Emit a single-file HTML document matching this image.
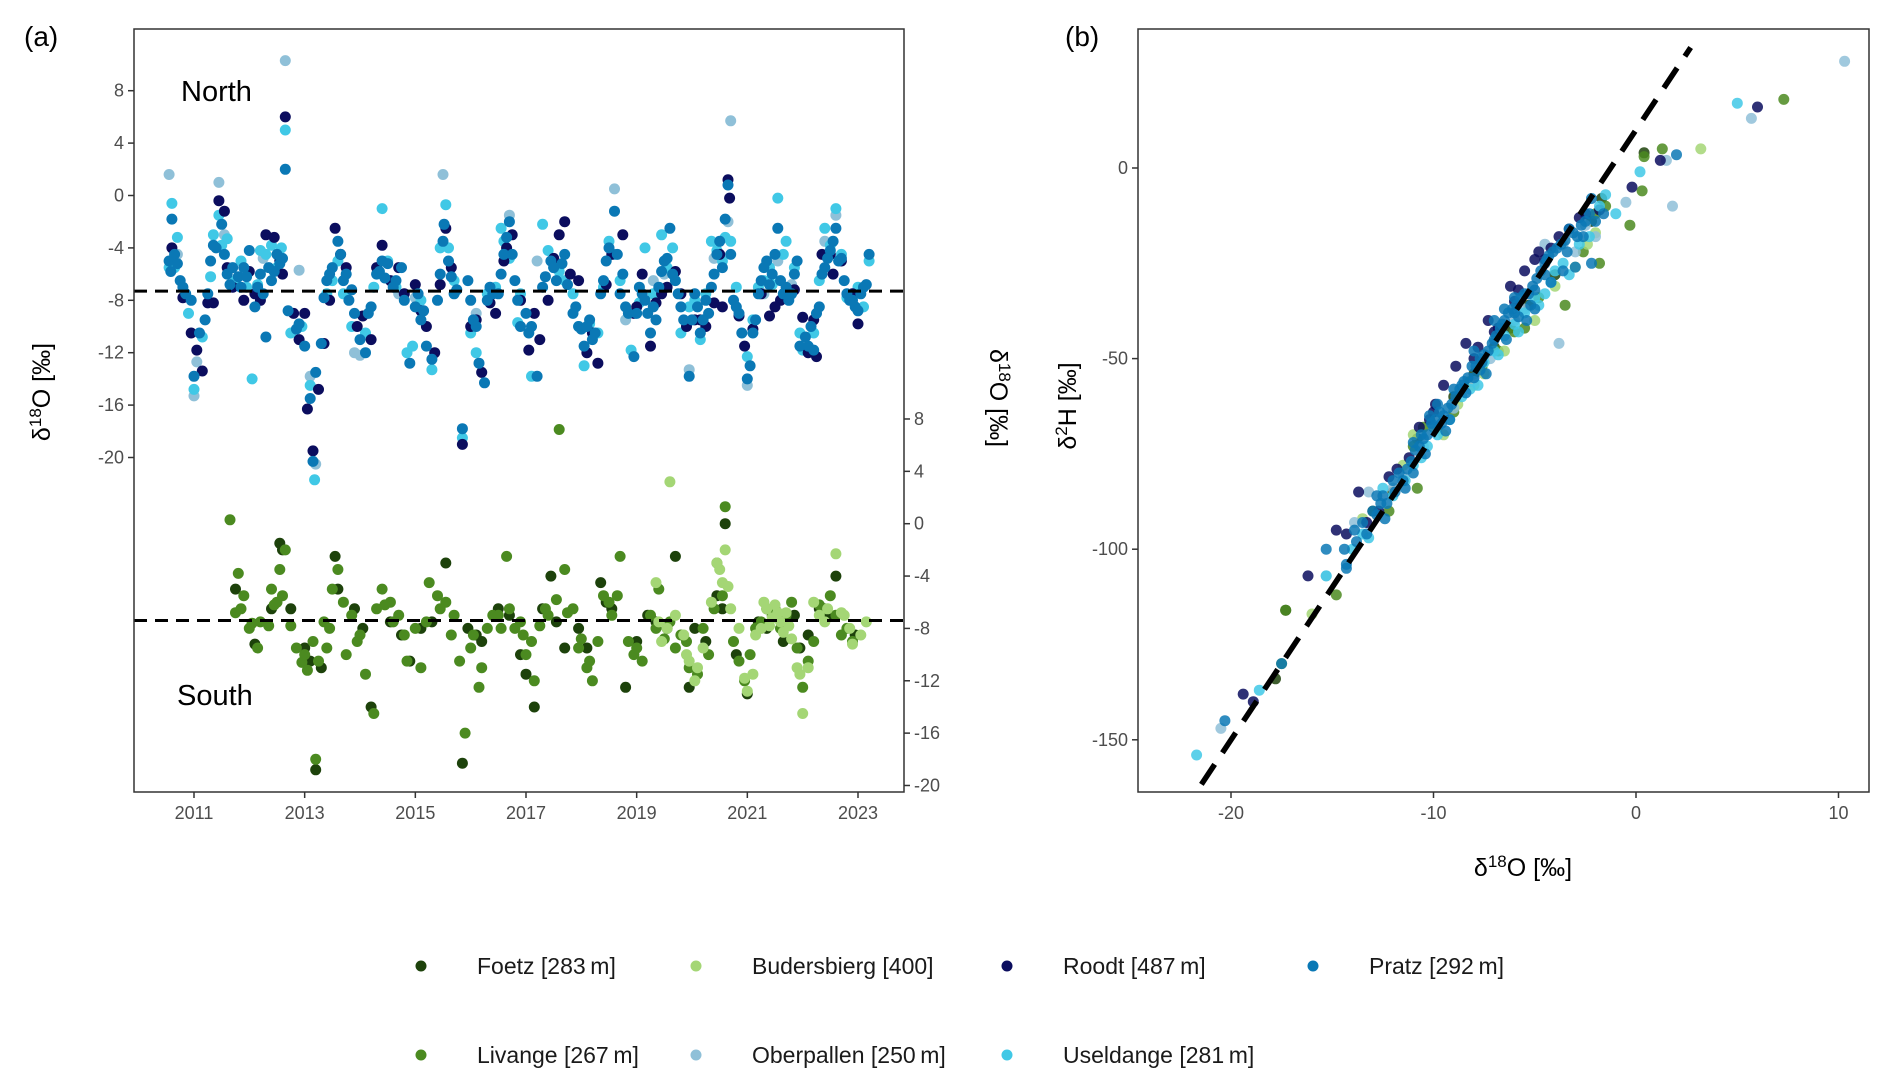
<!DOCTYPE html>
<html><head><meta charset="utf-8">
<style>
html,body{margin:0;padding:0;background:#fff;}
svg{display:block;font-family:"Liberation Sans",Arial,sans-serif;}
</style></head>
<body>
<svg id="chart" width="1892" height="1087" viewBox="0 0 1892 1087" xmlns="http://www.w3.org/2000/svg">
<rect width="1892" height="1087" fill="#fff"/>
<g id="pa"></g>
<g id="pb"></g>
<g id="leg"></g>
</svg>
<script>
// ---------- data ----------
const stationNames = ["Foetz [283\u2009m]","Budersbierg [400]","Roodt [487\u2009m]","Pratz [292\u2009m]","Livange [267\u2009m]","Oberpallen [250\u2009m]","Useldange [281\u2009m]"];
const stationColors = ["#1d420b","#a4d675","#0b0d5e","#0a78b5","#4b8a20","#8fc0d8","#40c8e6"];
const xTicksA = [2011,2013,2015,2017,2019,2021,2023];
const yTicksNorth = [8,4,0,-4,-8,-12,-16,-20];
const yTicksSouth = [8,4,0,-4,-8,-12,-16,-20];
const meanNorth = -7.3;
const meanSouth = -7.4;
// north stations (left axis): [year, d18O]
const pratz = [[2010.55,-5],[2010.6,-1.8],[2010.65,-4.5],[2010.75,-6.5],[2010.85,-7.5],[2010.95,-8],[2011.0,-13.8],[2011.1,-10.5],[2011.2,-9.5],[2011.3,-5],[2011.4,-4],[2011.5,-2.2],[2011.6,-6],[2011.7,-5.5],[2011.8,-6.2],[2011.9,-5.5],[2012.0,-4.2],[2012.1,-8.5],[2012.2,-6],[2012.3,-10.8],[2012.4,-6.5],[2012.5,-4.5],[2012.6,-4.8],[2012.65,2],[2012.7,-8.8],[2012.85,-10.2],[2013.0,-11.5],[2013.1,-15.5],[2013.15,-20.3],[2013.2,-13.5],[2013.3,-11.3],[2013.4,-6.5],[2013.5,-5.5],[2013.6,-3.5],[2013.7,-6.5],[2013.8,-8],[2013.9,-9],[2014.0,-11],[2014.1,-12],[2014.2,-8.5],[2014.3,-6],[2014.4,-5],[2014.5,-5.2],[2014.6,-7],[2014.75,-5.5],[2014.9,-12.8],[2015.0,-8.5],[2015.1,-9.5],[2015.2,-11.5],[2015.3,-12.5],[2015.4,-8],[2015.5,-3.5],[2015.6,-5],[2015.7,-7.5],[2015.85,-17.8],[2015.95,-6.5],[2016.05,-9.5],[2016.15,-12.8],[2016.25,-14.3],[2016.35,-7],[2016.5,-7.5],[2016.6,-4.5],[2016.7,-2],[2016.8,-6.5],[2016.9,-10],[2017.0,-9],[2017.1,-10],[2017.2,-13.8],[2017.3,-7],[2017.45,-5],[2017.55,-6.5],[2017.7,-4.5],[2017.85,-9],[2017.95,-10],[2018.05,-11.5],[2018.15,-9.5],[2018.25,-10.5],[2018.35,-7.5],[2018.5,-4],[2018.6,-1.2],[2018.7,-7.5],[2018.85,-9],[2018.95,-12.3],[2019.05,-7],[2019.15,-8],[2019.25,-10.5],[2019.35,-9.5],[2019.5,-5],[2019.6,-2.5],[2019.7,-6.5],[2019.85,-9.5],[2019.95,-13.8],[2020.05,-7.5],[2020.15,-10.5],[2020.3,-9],[2020.4,-6],[2020.5,-3.5],[2020.6,-1.8],[2020.65,0.8],[2020.75,-8],[2020.9,-10.5],[2021.0,-14],[2021.05,-13],[2021.15,-9.5],[2021.3,-5.5],[2021.45,-6],[2021.55,-2.5],[2021.65,-7.5],[2021.75,-8],[2021.9,-5],[2021.95,-11.5],[2022.05,-10.8],[2022.2,-11.8],[2022.3,-8.5],[2022.45,-4.8],[2022.6,-2.5],[2022.7,-4.8],[2022.85,-8],[2022.95,-8.5],[2023.1,-7],[2023.2,-4.5],
[2010.58,-5.8],[2010.7,-5.2],[2010.8,-7],[2011.25,-7.5],[2011.35,-3.8],[2011.55,-4.5],[2011.65,-6.8],[2011.85,-7],[2011.95,-6.2],[2012.15,-7],[2012.25,-7.5],[2012.35,-5.5],[2012.45,-5.8],[2012.55,-5.2],[2012.9,-9.8],[2013.35,-7.8],[2013.45,-6],[2013.65,-4.5],[2013.75,-6],[2013.85,-7.2],[2014.15,-9],[2014.35,-5.8],[2014.45,-6.3],[2014.65,-6.5],[2014.8,-8],[2015.05,-7.5],[2015.15,-8.8],[2015.45,-6],[2015.52,-2.2],[2015.65,-6.2],[2015.75,-7.2],[2016.0,-8],[2016.1,-10],[2016.3,-8],[2016.4,-7.5],[2016.55,-6],[2016.65,-3.2],[2016.75,-4.5],[2016.85,-8],[2017.05,-10.5],[2017.35,-6.2],[2017.5,-5.5],[2017.65,-5.2],[2017.75,-6.8],[2017.9,-8.5],[2018.0,-10.2],[2018.1,-10],[2018.2,-11],[2018.4,-6.5],[2018.45,-5],[2018.65,-4.5],[2018.75,-6],[2018.8,-8.5],[2019.0,-9],[2019.1,-7.5],[2019.2,-9],[2019.3,-8.5],[2019.4,-7],[2019.45,-5.8],[2019.55,-4.8],[2019.65,-6],[2019.75,-7.5],[2019.8,-8.5],[2020.0,-9.5],[2020.1,-8.5],[2020.2,-9.5],[2020.25,-8],[2020.35,-7],[2020.45,-4.5],[2020.55,-5.5],[2020.7,-4.5],[2020.8,-8.5],[2020.85,-9],[2021.1,-10.5],[2021.2,-7.5],[2021.25,-6.5],[2021.35,-5],[2021.4,-6.8],[2021.5,-4.5],[2021.6,-6.5],[2021.7,-7],[2021.8,-7.5],[2021.85,-6],[2022.1,-11.5],[2022.15,-10],[2022.25,-9],[2022.35,-6],[2022.4,-5.5],[2022.5,-4.2],[2022.55,-3.5],[2022.65,-5],[2022.75,-6.5],[2022.8,-7.5],[2022.9,-8],[2023.0,-8.8],[2023.05,-7.5],[2023.15,-6.8]];
const roodt = [[2010.6,-4],[2010.8,-7.8],[2010.95,-10.5],[2011.05,-11.8],[2011.15,-13.4],[2011.35,-8.2],[2011.45,-0.4],[2011.55,-1.2],[2011.7,-7],[2011.9,-8],[2012.1,-7.5],[2012.3,-3],[2012.45,-3.2],[2012.6,-6],[2012.65,6],[2012.8,-9],[2012.9,-11],[2013.0,-9],[2013.05,-16.3],[2013.15,-19.5],[2013.25,-14.8],[2013.45,-8],[2013.55,-2.5],[2013.75,-5.5],[2013.95,-10],[2014.2,-11],[2014.4,-3.8],[2014.55,-6.5],[2014.8,-7.5],[2015.0,-6.8],[2015.2,-10],[2015.35,-12],[2015.55,-2.5],[2015.65,-5.5],[2015.85,-19],[2016.0,-10],[2016.2,-13.5],[2016.45,-9],[2016.6,-5],[2016.75,-3],[2016.9,-8],[2017.05,-11.8],[2017.25,-11],[2017.4,-8],[2017.6,-3],[2017.8,-6],[2017.95,-6.5],[2018.1,-12],[2018.3,-12.8],[2018.55,-4.5],[2018.75,-3],[2018.95,-9],[2019.1,-6],[2019.25,-11.5],[2019.45,-7.5],[2019.55,-7],[2019.7,-5.8],[2019.9,-10],[2020.05,-9.5],[2020.25,-10],[2020.5,-4.5],[2020.55,-8.5],[2020.65,1.2],[2020.68,-0.2],[2020.85,-9.2],[2021.1,-10.2],[2021.25,-7.5],[2021.4,-9.2],[2021.6,-8],[2021.75,-7.5],[2022.0,-9.3],[2022.1,-12],[2022.25,-12.3],[2022.35,-4.5],[2022.55,-6],[2022.7,-5],[2022.9,-7.5],[2023.0,-9.8],
[2011.25,-8.2],[2011.6,-5.5],[2012.0,-5.8],[2012.2,-8],[2012.55,-5],[2013.35,-11.3],[2013.65,-4.5],[2014.05,-9.2],[2014.3,-5.5],[2014.7,-5.5],[2015.1,-8.8],[2015.45,-6.8],[2016.1,-9.5],[2016.35,-8.2],[2016.65,-4],[2017.15,-9],[2017.5,-4.8],[2017.7,-2],[2018.2,-10.5],[2018.45,-6.8],[2019.0,-8.5],[2019.35,-8.2],[2019.8,-7.5],[2020.15,-9.5],[2020.4,-8.2],[2020.95,-11.5],[2021.5,-8.5],[2021.85,-7.2],[2022.2,-9.5],[2022.5,-4.5]];
const useldange = [[2010.55,-5.5],[2010.6,-0.6],[2010.7,-3.2],[2010.9,-9],[2011.0,-14.8],[2011.15,-10.8],[2011.35,-3],[2011.45,-1.5],[2011.6,-3.3],[2011.75,-6.5],[2011.95,-7],[2012.05,-14],[2012.2,-4.2],[2012.4,-3.8],[2012.65,5],[2012.75,-10.5],[2012.95,-10],[2013.1,-14.5],[2013.18,-21.7],[2013.4,-7.5],[2013.6,-5],[2013.85,-10],[2014.1,-10.5],[2014.4,-1],[2014.65,-7],[2014.85,-12],[2015.1,-8],[2015.3,-13.3],[2015.55,-0.7],[2015.6,-4],[2015.85,-18.5],[2016.1,-12],[2016.3,-7.5],[2016.55,-2.5],[2016.7,-4.8],[2016.85,-9.7],[2017.1,-13.8],[2017.3,-2.2],[2017.5,-5.5],[2017.7,-6.5],[2017.95,-10],[2018.05,-13],[2018.3,-10.5],[2018.5,-3.5],[2018.7,-6.5],[2018.9,-11.8],[2019.15,-4],[2019.3,-7.5],[2019.45,-3],[2019.8,-10.5],[2019.95,-8.5],[2020.15,-11],[2020.35,-3.5],[2020.55,-5],[2020.7,-3.5],[2020.8,-7],[2021.0,-12.3],[2021.2,-7],[2021.4,-5.5],[2021.55,-0.2],[2021.7,-3.5],[2021.85,-5.5],[2022.0,-11.8],[2022.2,-10.5],[2022.4,-2.5],[2022.6,-1],[2022.8,-7.8],[2023.1,-8.5],[2023.2,-5],
[2010.65,-5.5],[2011.3,-6.2],[2011.5,-3.8],[2011.85,-5],[2012.15,-6.8],[2012.3,-4.5],[2012.5,-5.5],[2012.58,-4],[2013.5,-6.5],[2013.7,-7.5],[2014.25,-7],[2014.5,-5],[2014.95,-11.5],[2015.45,-4],[2015.7,-6.5],[2016.0,-10.5],[2016.45,-7],[2016.6,-3.5],[2016.9,-7.5],[2017.4,-4.2],[2017.6,-5.8],[2017.85,-7.5],[2018.15,-9.8],[2018.4,-7],[2018.6,-4.5],[2019.05,-8.2],[2019.55,-5.5],[2019.65,-4],[2020.05,-8],[2020.25,-7.5],[2020.45,-4.2],[2020.6,-3.2],[2021.1,-9.5],[2021.3,-6.5],[2021.45,-6.8],[2021.65,-4.5],[2021.95,-10.5],[2022.3,-6.5],[2022.5,-3.8],[2022.7,-4.5],[2023.0,-7]];
const oberpallen = [[2010.55,1.6],[2010.7,-4.5],[2011.0,-15.3],[2011.05,-12.7],[2011.45,1],[2011.55,-3],[2012.25,-4.8],[2012.65,10.3],[2012.9,-5.7],[2013.1,-13.8],[2013.2,-20.5],[2013.9,-12],[2014.7,-7.5],[2015.0,-7.8],[2015.5,1.6],[2016.2,-13.5],[2016.7,-1.5],[2017.2,-5],[2018.6,0.5],[2018.8,-9.5],[2019.3,-6.5],[2019.95,-13.3],[2020.4,-4.8],[2020.7,5.7],[2020.65,-2],[2021.0,-14.5],[2021.55,-5],[2021.8,-6.8],[2022.4,-3.5],[2022.6,-1.5],[2014.0,-12.2],[2016.1,-9],[2017.5,-5.5],[2019.5,-6],[2021.3,-7.5]];
// south stations (right axis)
const livange = [[2011.65,0.3],[2011.75,-6.8],[2011.8,-3.8],[2011.9,-5.5],[2012.05,-7.6],[2012.15,-9.5],[2012.35,-7.8],[2012.4,-5],[2012.5,-6],[2012.55,-3.5],[2012.65,-2],[2012.75,-7.8],[2012.95,-10.6],[2013.05,-11.2],[2013.15,-9],[2013.2,-18],[2013.35,-7.5],[2013.4,-9.5],[2013.5,-5],[2013.6,-3.5],[2013.75,-10],[2013.85,-7],[2014.0,-8.5],[2014.1,-11.5],[2014.25,-14.5],[2014.4,-5],[2014.55,-6],[2014.7,-7],[2014.85,-10.5],[2015.0,-8],[2015.1,-11],[2015.25,-4.5],[2015.4,-5.5],[2015.55,-6],[2015.65,-8.5],[2015.8,-10.5],[2015.9,-16],[2016.05,-8.5],[2016.2,-11],[2016.4,-7],[2016.55,-8],[2016.65,-2.5],[2016.8,-8],[2016.9,-7.5],[2017.0,-10],[2017.15,-12],[2017.35,-6.5],[2017.55,-5.8],[2017.6,7.2],[2017.7,-3.5],[2017.85,-6.5],[2017.95,-9.5],[2018.1,-11],[2018.2,-12],[2018.4,-5.5],[2018.55,-7],[2018.7,-2.5],[2018.85,-9],[2018.95,-10],[2019.1,-10.5],[2019.25,-7],[2019.4,-5],[2019.6,-7.5],[2019.8,-8.5],[2019.95,-11],[2020.1,-11.5],[2020.3,-10],[2020.45,-3],[2020.6,1.3],[2020.75,-9],[2020.95,-12],[2021.15,-8],[2021.35,-6.5],[2021.6,-8],[2021.8,-6],[2022.0,-12.5],[2022.2,-9],[2022.4,-6.5],[2022.6,-7],[2022.8,-8],
[2011.85,-6.5],[2012.0,-8],[2012.2,-7.5],[2012.45,-6.2],[2012.6,-5.5],[2012.85,-9.5],[2013.0,-10],[2013.25,-10.5],[2013.45,-8],[2013.7,-6],[2013.95,-9],[2014.3,-6.5],[2014.45,-6.2],[2014.6,-7.5],[2014.8,-8.5],[2015.2,-7.5],[2015.45,-6.5],[2015.7,-7],[2016.0,-9.5],[2016.15,-12.5],[2016.3,-8],[2016.5,-7],[2016.7,-6.5],[2016.95,-8.5],[2017.1,-9],[2017.25,-7.8],[2017.4,-7],[2017.75,-6.8],[2018.0,-8.8],[2018.15,-10.5],[2018.3,-9],[2018.5,-6],[2018.65,-5.5],[2019.0,-9.5],[2019.35,-8],[2019.5,-8.8],[2019.7,-9.5],[2019.9,-9],[2020.2,-8],[2020.4,-6.5],[2020.55,-5.5],[2020.85,-10.5],[2021.05,-10],[2021.25,-7.5],[2021.45,-7],[2021.7,-7],[2021.9,-9.5],[2022.1,-10.5],[2022.3,-6.2],[2022.5,-5.5],[2022.7,-8.5],[2022.9,-9]];
const foetz = [[2011.75,-5],[2012.1,-9.2],[2012.4,-6.5],[2012.6,-2],[2012.75,-6.5],[2013.1,-10.5],[2013.2,-18.8],[2013.3,-11],[2013.55,-2.5],[2013.9,-6.5],[2014.2,-14],[2014.55,-7.5],[2014.9,-10.5],[2015.1,-8],[2015.55,-3],[2015.85,-18.3],[2015.95,-8],[2016.2,-9],[2016.5,-6.5],[2016.9,-10],[2017.0,-11.5],[2017.15,-14],[2017.3,-6.5],[2017.45,-4],[2017.7,-9.5],[2017.95,-8],[2018.35,-4.5],[2018.55,-6.5],[2018.8,-12.5],[2019.0,-9],[2019.2,-7],[2019.55,-8],[2019.7,-2.5],[2019.95,-12.5],[2020.05,-8],[2020.45,-5.5],[2020.6,0],[2020.8,-10],[2021.0,-13],[2021.2,-7.5],[2021.5,-6.5],[2021.65,-9],[2021.85,-7],[2022.1,-8.5],[2022.3,-6.5],[2022.6,-4],[2022.95,-8.5],
[2012.55,-1.5],[2013.0,-9.5],[2013.6,-5],[2014.05,-8],[2014.75,-8.5],[2015.3,-7.5],[2016.1,-8.5],[2016.7,-7],[2017.55,-7.5],[2018.1,-9.5],[2018.45,-6],[2019.35,-7.5],[2020.25,-9],[2020.55,-6.5],[2021.35,-8],[2021.95,-9.5],[2022.45,-7]];
const budersbierg = [[2019.35,-4.5],[2019.45,-9],[2019.6,3.2],[2019.7,-7],[2019.85,-8.5],[2019.95,-10.5],[2020.05,-12],[2020.2,-9.5],[2020.35,-6],[2020.5,-3.5],[2020.55,-4.5],[2020.6,-2],[2020.7,-6.5],[2020.85,-8],[2021.0,-12.8],[2021.1,-11.5],[2021.25,-8],[2021.35,-6.5],[2021.45,-7.2],[2021.55,-6.8],[2021.65,-8.3],[2021.75,-7.8],[2021.9,-11],[2022.0,-14.5],[2022.1,-11],[2022.3,-7],[2022.45,-6.5],[2022.6,-2.3],[2022.75,-7],[2022.9,-9.2],[2023.05,-8.5],[2023.15,-7.5],
[2019.4,-7.5],[2019.55,-8],[2019.9,-10],[2020.1,-11],[2020.45,-3],[2020.65,-4.8],[2020.95,-11.8],[2021.15,-8.5],[2021.3,-6],[2021.4,-7.8],[2021.5,-6.2],[2021.6,-7.5],[2021.7,-6.8],[2021.8,-8.8],[2021.95,-11.5],[2022.2,-6],[2022.4,-7.5],[2022.7,-6.8],[2022.85,-8]];
// panel b: [d18O, d2H]
const bPratz = [[-14.3,-104],[-13.8,-98],[-13.3,-96],[-12.8,-91],[-12.3,-88],[-11.9,-85],[-11.5,-82],[-11.1,-77],[-10.7,-73],[-10.3,-70],[-9.9,-66],[-9.5,-65],[-9.1,-62],[-8.7,-58],[-8.3,-55],[-7.9,-52],[-7.5,-49],[-7.1,-46],[-6.7,-42],[-6.3,-38],[-5.9,-36],[-5.5,-33],[-5.1,-31],[-4.7,-27],[-4.3,-23],[-3.9,-21],[-3.5,-19],[-3.1,-17],[-2.7,-15],[-2.3,-12],[-7.0,-40],[-6.0,-34],[-8.0,-55],[-10.0,-68],[-11.0,-80],[-12.5,-86],[-20.3,-145],[-17.5,-130],[-14.3,-105],[-2.2,-8],[2.0,3.5],[-4.5,-28],[-5.0,-37],[-9.0,-58],[-6.5,-37],[-5.2,-36],[-7.7,-50],[-10.2,-65],
[-13.5,-93],[-13.0,-90],[-12.6,-88],[-12.0,-82],[-11.7,-80],[-11.3,-79],[-10.9,-74],[-10.5,-71],[-10.1,-67],[-9.7,-64],[-9.3,-63],[-9.6,-67],[-8.9,-60],[-8.5,-56],[-8.1,-52],[-7.7,-53],[-7.3,-48],[-6.9,-44],[-6.5,-40],[-6.1,-37],[-5.7,-34],[-5.3,-33],[-4.9,-29],[-4.5,-25],[-4.1,-22],[-3.7,-20],[-3.3,-16],[-2.9,-18],[-2.5,-14],[-2.0,-14],[-1.6,-12],[-2.2,-25],[-3.0,-26],[-3.6,-27],[-4.2,-30],[-5.4,-40],[-6.4,-45],[-7.4,-54],[-8.4,-59],[-9.4,-69],[-10.4,-75],[-11.4,-84],[-12.4,-92],[-8.0,-48],[-7.0,-45],[-6.0,-38],[-5.0,-32],[-9.8,-62],[-11.0,-72],[-12.8,-86],[-13.9,-95],[-14.4,-100],[-15.3,-100],[-6.6,-41],[-5.8,-39],[-7.6,-51],[-8.6,-57],[-9.2,-66],[-10.6,-70],[-4.4,-24],[-3.4,-22],[-2.6,-18]];
const bRoodt = [[-19.4,-138],[-18.9,-140],[-16.2,-107],[-14.3,-96],[-13.7,-85],[-12.2,-81],[-10.7,-68],[-9.5,-57],[-8.4,-46],[-7.3,-40],[-6.2,-31],[-5.5,-27],[-4.8,-22],[-3.8,-18],[-2.8,-13],[1.2,2],[-0.2,-5],[6.0,16],[-8.9,-52],[-11.2,-76],[-5.0,-24],
[-13.3,-93],[-12.7,-90],[-11.8,-79],[-10.2,-66],[-9.9,-62],[-8.0,-50],[-7.8,-47],[-6.8,-42],[-6.0,-35],[-5.8,-32],[-4.5,-24],[-4.2,-21],[-3.3,-16],[-2.5,-12],[-1.8,-11],[-14.8,-95],[-10.0,-64],[-7.0,-43]];
const bUseld = [[-21.7,-154],[-18.6,-137],[-15.3,-107],[-13.2,-97],[-12.5,-84],[-11.0,-78],[-9.8,-70],[-8.6,-60],[-7.5,-51],[-6.5,-44],[-5.0,-34],[-4.2,-30],[-3.6,-25],[-2.8,-20],[-1.5,-7],[0.2,-1],[5.0,17],[-14.0,-100],[-10.3,-73],[-7.0,-48],
[-13.5,-96],[-12.0,-86],[-11.4,-82],[-10.6,-76],[-9.2,-66],[-8.2,-58],[-7.8,-57],[-6.8,-49],[-6.0,-41],[-5.5,-38],[-4.8,-36],[-4.5,-33],[-3.3,-28],[-2.3,-18],[-1.8,-10],[-1.0,-12],[-4.0,-27],[-5.8,-43]];
const bOber = [[-20.5,-147],[-15.3,-107],[-13.9,-93],[-12.0,-84],[-10.5,-73],[-8.0,-56],[-6.0,-40],[-3.8,-46],[-3.0,-22],[-2.5,-15],[1.8,-10],[1.5,2],[5.7,13],[10.3,28],[-0.5,-9],[-4.5,-20],[-13.2,-85],[-11.5,-81],[-9.0,-63],[-7.2,-50],[-5.5,-37],[-3.6,-20],[-2.0,-18]];
const bLiv = [[-17.3,-116],[-17.5,-130],[-14.8,-112],[-12.2,-90],[-10.8,-84],[-9.8,-68],[-8.2,-56],[-6.8,-48],[-5.5,-42],[-3.5,-36],[-1.8,-25],[-0.3,-15],[0.3,-6],[0.4,3],[1.3,5],[7.3,18],[-1.5,-10],[-11.0,-73],[-10.5,-68],[-9.0,-64],[-7.6,-52],[-6.0,-43],[-4.8,-34],[-2.6,-22],[-2.0,-12]];
const bFoetz = [[-17.3,-116],[-17.8,-134],[-13.0,-90],[-10.8,-71],[-9.0,-60],[-7.0,-47],[-5.3,-36],[-1.7,-8],[0.4,4],[-12.0,-85],[-8.0,-54],[-6.2,-42],[-4.0,-28],[-2.2,-14]];
const bBuders = [[-16.0,-117],[-13.5,-92],[-11.5,-78],[-10.0,-68],[-8.8,-62],[-7.5,-54],[-5.0,-40],[-3.0,-26],[-2.0,-17],[3.2,5],[-9.5,-70],[-11.0,-70],[-8.0,-57],[-6.5,-48],[-4.0,-31],[-2.4,-20]];
const xTicksB = [-20,-10,0,10];
const yTicksB = [0,-50,-100,-150];

// ---------- scales ----------
const A = {l:134,r:904,t:29,b:792};
const xA = y => 194 + (y-2011)*(858-194)/12;
const yN = v => 195.5 - v*(52.4/4);
const yS = v => 523.7 - v*(366.5/28);
const B = {l:1138,r:1869,t:29,b:792};
const xB = v => 1636 + v*20.25;
const yB = v => 168 - v*(190.6/50);

const NS = "http://www.w3.org/2000/svg";
function mk(parent, tag, attrs){const e=document.createElementNS(NS,tag);for(const k in attrs)e.setAttribute(k,attrs[k]);parent.appendChild(e);return e;}
const pa = document.getElementById('pa');
const pb = document.getElementById('pb');
const leg = document.getElementById('leg');
const tickCol = "#4d4d4d";

// ---- Panel A ----
let t = mk(pa,'text',{x:24,y:46,'font-size':28,fill:'#000'}); t.textContent='(a)';
 
function drawSeries(arr, col, ys, name){
  const g = mk(pa,'g',{});
  
  
  arr.forEach(d=>{
    const c = mk(g,'circle',{cx:xA(d[0]).toFixed(1),cy:ys(d[1]).toFixed(1),r:5.5,fill:col});
    
    
  });
}
drawSeries(oberpallen, stationColors[5], yN, 'oberpallen-series');
drawSeries(useldange, stationColors[6], yN, 'useldange-series');
drawSeries(roodt, stationColors[2], yN, 'roodt-series');
drawSeries(pratz, stationColors[3], yN, 'pratz-series');
drawSeries(foetz, stationColors[0], yS, 'foetz-series');
drawSeries(livange, stationColors[4], yS, 'livange-series');
drawSeries(budersbierg, stationColors[1], yS, 'budersbierg-series');
let ln = mk(pa,'line',{x1:A.l,x2:A.r,y1:yN(meanNorth),y2:yN(meanNorth),stroke:'#000','stroke-width':3,'stroke-dasharray':'13,8'});
 
ln = mk(pa,'line',{x1:A.l,x2:A.r,y1:yS(meanSouth),y2:yS(meanSouth),stroke:'#000','stroke-width':3,'stroke-dasharray':'13,8'});
 
let fr = mk(pa,'rect',{x:A.l,y:A.t,width:A.r-A.l,height:A.b-A.t,fill:'none',stroke:'#333','stroke-width':1.5});
 
xTicksA.forEach(v=>{
  const x=xA(v);
  const tk=mk(pa,'line',{x1:x,x2:x,y1:A.b,y2:A.b+6,stroke:'#333','stroke-width':1.5});
   
  const tx=mk(pa,'text',{x:x,y:A.b+27,'text-anchor':'middle','font-size':18,fill:tickCol}); tx.textContent=v;
   
});
yTicksNorth.forEach(v=>{
  const y=yN(v);
  const tk=mk(pa,'line',{x1:A.l-6,x2:A.l,y1:y,y2:y,stroke:'#333','stroke-width':1.5});
   
  const tx=mk(pa,'text',{x:A.l-10,y:y+6,'text-anchor':'end','font-size':18,fill:tickCol}); tx.textContent=v;
   
});
yTicksSouth.forEach(v=>{
  const y=yS(v);
  const tk=mk(pa,'line',{x1:A.r,x2:A.r+6,y1:y,y2:y,stroke:'#333','stroke-width':1.5});
   
  const tx=mk(pa,'text',{x:A.r+10,y:y+6,'text-anchor':'start','font-size':18,fill:tickCol}); tx.textContent=v;
   
});
t=mk(pa,'text',{x:181,y:101,'font-size':29,fill:'#000'}); t.textContent='North';
 
t=mk(pa,'text',{x:177,y:705,'font-size':29,fill:'#000'}); t.textContent='South';
 
t=mk(pa,'text',{x:0,y:0,'font-size':25,fill:'#000','text-anchor':'middle',transform:'translate(50,392) rotate(-90)'});
t.innerHTML='δ<tspan dy="-9" font-size="17">18</tspan><tspan dy="9">O [‰]</tspan>';
 
t=mk(pa,'text',{x:0,y:0,'font-size':25,fill:'#000','text-anchor':'middle',transform:'translate(990,398) rotate(90)'});
t.innerHTML='δ<tspan dy="-9" font-size="17">18</tspan><tspan dy="9">O [‰]</tspan>';
 

// ---- Panel B ----
t = mk(pb,'text',{x:1065,y:46,'font-size':28,fill:'#000'}); t.textContent='(b)';
 
const defs = mk(pb,'clipPath',{id:'clipB'}); mk(defs,'rect',{x:B.l,y:B.t,width:B.r-B.l,height:B.b-B.t});
function drawB(arr,col,name){
  const g=mk(pb,'g',{'clip-path':'url(#clipB)'});
  
  
  arr.forEach(d=>{
    const c=mk(g,'circle',{cx:xB(d[0]).toFixed(1),cy:yB(d[1]).toFixed(1),r:5.5,fill:col,'fill-opacity':0.85});
    
    
  });
}
drawB(bFoetz,stationColors[0],'foetz-scatter');
drawB(bLiv,stationColors[4],'livange-scatter');
drawB(bBuders,stationColors[1],'budersbierg-scatter');
drawB(bOber,stationColors[5],'oberpallen-scatter');
drawB(bRoodt,stationColors[2],'roodt-scatter');
drawB(bUseld,stationColors[6],'useldange-scatter');
drawB(bPratz,stationColors[3],'pratz-scatter');
const gx1=-22.5, gx2=2.7;
ln=mk(pb,'line',{x1:xB(gx1),y1:yB(8*gx1+10),x2:xB(gx2),y2:yB(8*gx2+10),stroke:'#000','stroke-width':5.5,'stroke-dasharray':'24,14','clip-path':'url(#clipB)'});
 
fr=mk(pb,'rect',{x:B.l,y:B.t,width:B.r-B.l,height:B.b-B.t,fill:'none',stroke:'#333','stroke-width':1.5});
 
xTicksB.forEach(v=>{
  const x=xB(v);
  const tk=mk(pb,'line',{x1:x,x2:x,y1:B.b,y2:B.b+6,stroke:'#333','stroke-width':1.5});
   
  const tx=mk(pb,'text',{x:x,y:B.b+27,'text-anchor':'middle','font-size':18,fill:tickCol}); tx.textContent=v;
   
});
yTicksB.forEach(v=>{
  const y=yB(v);
  const tk=mk(pb,'line',{x1:B.l-6,x2:B.l,y1:y,y2:y,stroke:'#333','stroke-width':1.5});
   
  const tx=mk(pb,'text',{x:B.l-10,y:y+6,'text-anchor':'end','font-size':18,fill:tickCol}); tx.textContent=v;
   
});
t=mk(pb,'text',{x:1523,y:876,'font-size':25,fill:'#000','text-anchor':'middle'});
t.innerHTML='δ<tspan dy="-9" font-size="17">18</tspan><tspan dy="9">O [‰]</tspan>';
 
t=mk(pb,'text',{x:0,y:0,'font-size':25,fill:'#000','text-anchor':'middle',transform:'translate(1076,406) rotate(-90)'});
t.innerHTML='δ<tspan dy="-9" font-size="17">2</tspan><tspan dy="9">H [‰]</tspan>';
 

// ---- Legend ----
const legOrder=[0,1,2,3,4,5,6];
const legX=[421,696,1007,1313];
const legY=[966,1055];
legOrder.forEach((s,i)=>{
  const col=i%4,row=Math.floor(i/4);
  const g=mk(leg,'g',{});
  
  
  mk(g,'circle',{cx:legX[col],cy:legY[row],r:5.5,fill:stationColors[s]});
  const tx=mk(g,'text',{x:legX[col]+56,y:legY[row]+8,'font-size':23,fill:'#1a1a1a'}); tx.textContent=stationNames[s];
});
</script>
</body></html>
